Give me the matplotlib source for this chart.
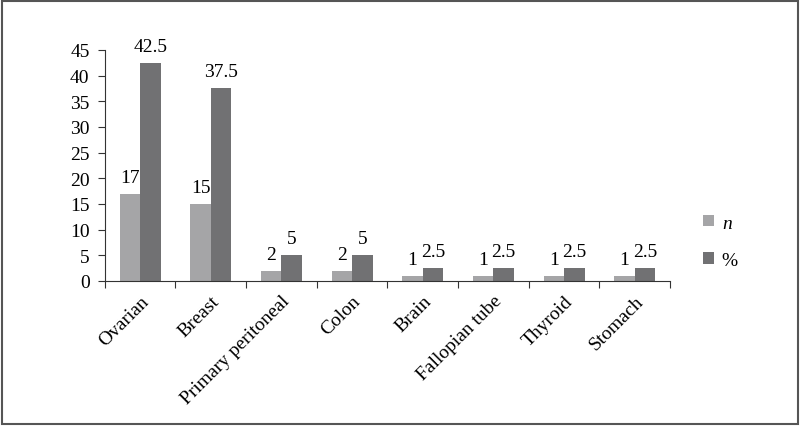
import matplotlib.pyplot as plt
import numpy as np
from matplotlib.patches import Rectangle

categories = ["Ovarian", "Breast", "Primary peritoneal", "Colon", "Brain",
              "Fallopian tube", "Thyroid", "Stomach"]
n_vals = [17, 15, 2, 2, 1, 1, 1, 1]
pct_vals = [42.5, 37.5, 5, 5, 2.5, 2.5, 2.5, 2.5]
n_labels = ["17", "15", "2", "2", "1", "1", "1", "1"]
pct_labels = ["42.5", "37.5", "5", "5", "2.5", "2.5", "2.5", "2.5"]

plt.rcParams['font.family'] = ['Liberation Serif', 'DejaVu Serif']
fs = 14

fig = plt.figure(figsize=(8, 4.27), dpi=100)
ax = fig.add_axes([0.131, 0.3396, 0.7065, 0.541])

x = np.arange(len(categories))
w = 0.29
light = "#a5a5a7"
dark = "#717173"
ax.bar(x - w / 2, n_vals, w, color=light, label="n")
ax.bar(x + w / 2, pct_vals, w, color=dark, label="%")

# value labels above each bar
for i in range(len(categories)):
    ax.text(x[i] - w / 2, n_vals[i] + 1.6, n_labels[i], ha="center", va="bottom", fontsize=fs)
    ax.text(x[i] + w / 2, pct_vals[i] + 1.6, pct_labels[i], ha="center", va="bottom", fontsize=fs)

ax.set_xlim(-0.5, len(categories) - 0.5)
ax.set_ylim(0, 45)
ax.set_yticks(range(0, 50, 5))
ax.set_xticks(np.arange(-0.5, len(categories), 1))
ax.set_xticklabels([])
ax.set_xticks(x, minor=True)
ax.set_xticklabels(categories, minor=True, rotation=45, ha="right", rotation_mode="anchor", fontsize=fs)
ax.tick_params(axis="x", which="minor", length=0, pad=8)
ax.tick_params(axis="x", which="major", length=5, direction="out", color="#333333")
ax.tick_params(axis="y", length=5, direction="out", color="#333333", labelsize=fs, pad=6)
for s in ["top", "right"]:
    ax.spines[s].set_visible(False)
ax.spines["left"].set_color("#333333")
ax.spines["bottom"].set_color("#333333")

leg = ax.legend(loc="center left", bbox_to_anchor=(1.028, 0.17), frameon=False, fontsize=fs,
                handlelength=0.55, handleheight=0.55, labelspacing=1.05, handletextpad=0.4)
leg.get_texts()[0].set_style("italic")

fig.patches.append(Rectangle((0.002, 0.004), 0.995, 0.992, transform=fig.transFigure,
                             fill=False, edgecolor="#555555", linewidth=1.5))

fig.savefig("out.png", dpi=100)
